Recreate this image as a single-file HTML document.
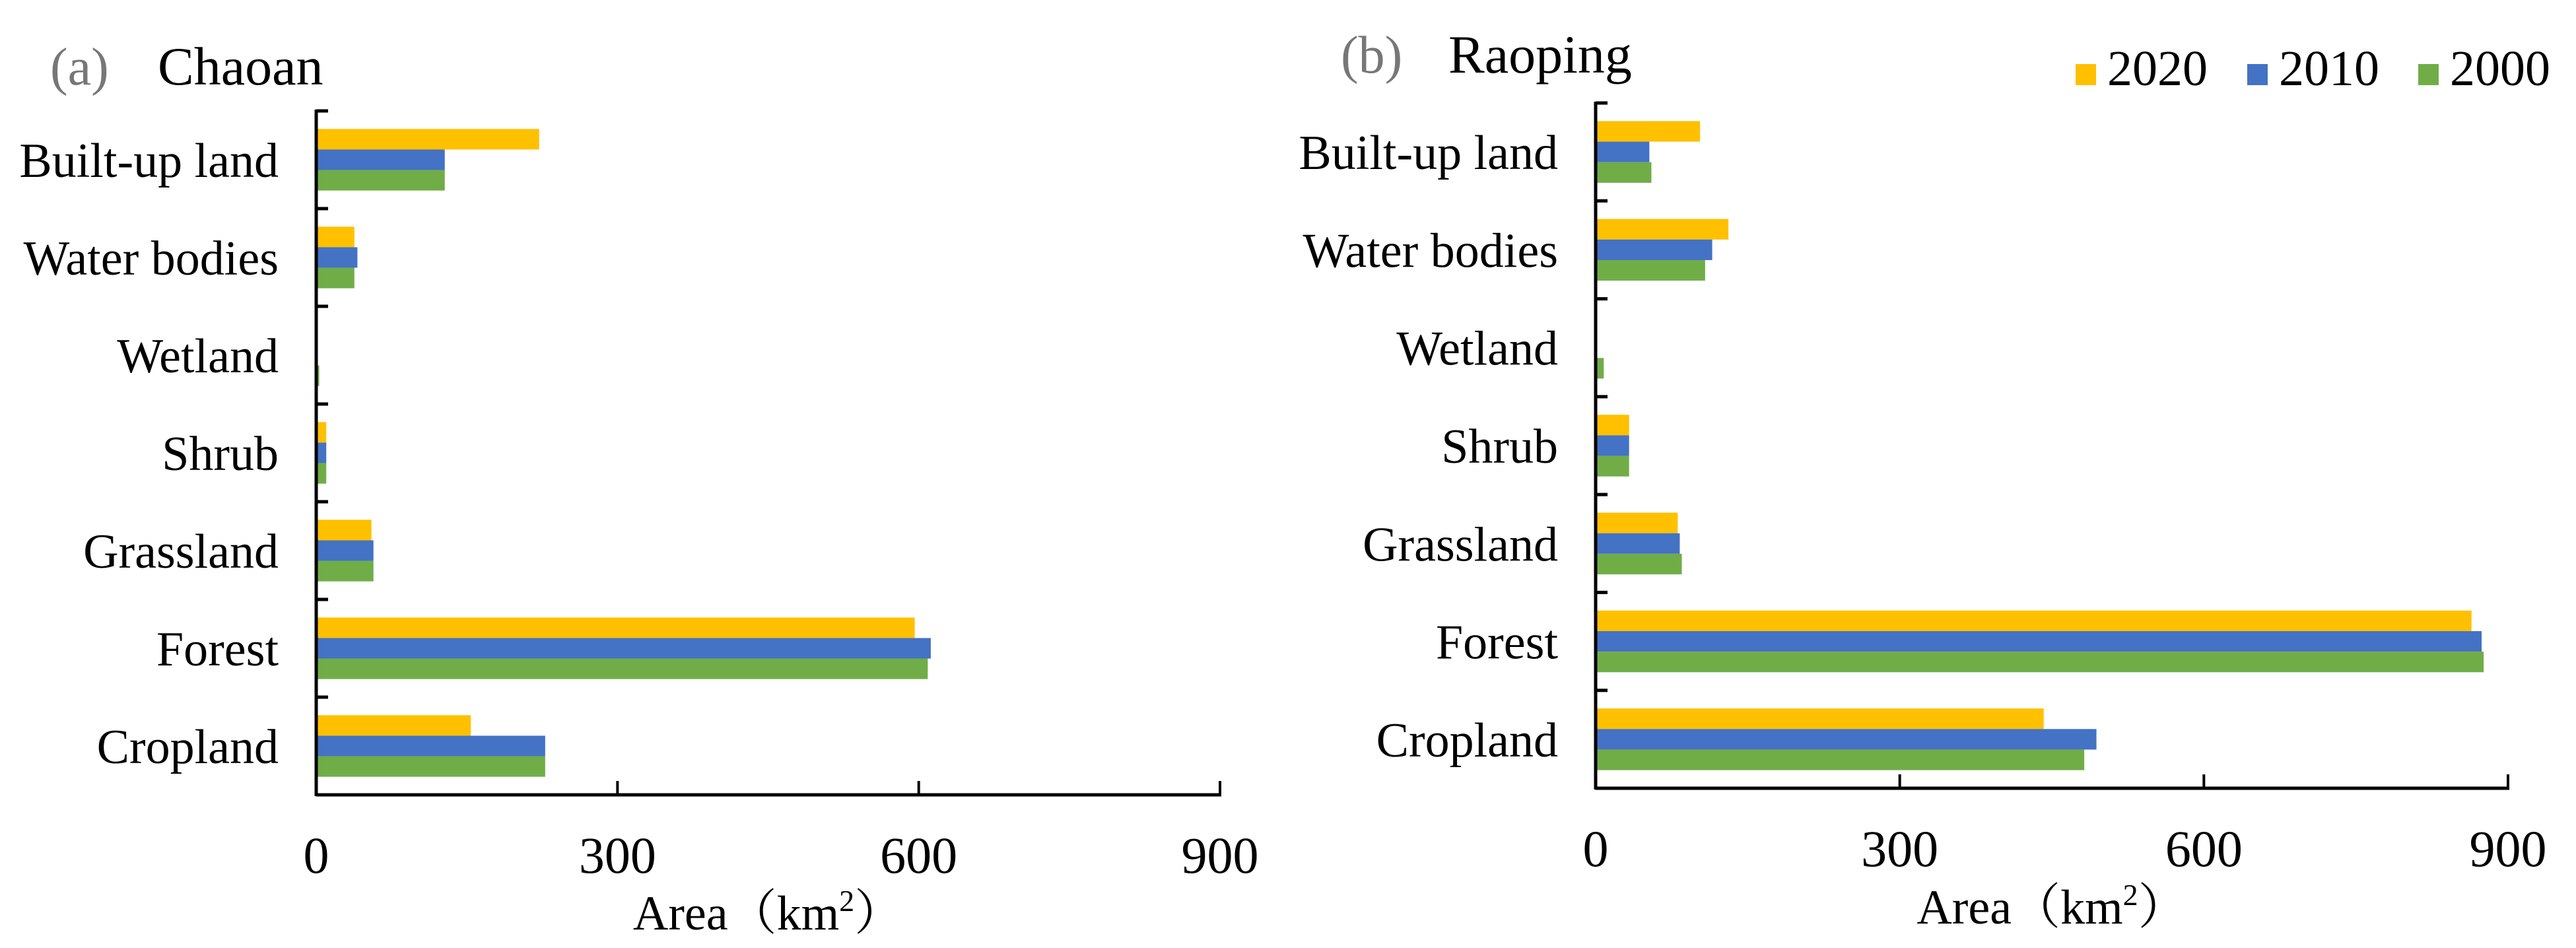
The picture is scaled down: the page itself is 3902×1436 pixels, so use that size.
<!DOCTYPE html>
<html><head><meta charset="utf-8"><style>
html,body{margin:0;padding:0;background:#fff;}
svg{display:block;font-family:"Liberation Serif","Noto Serif CJK SC",serif;}
svg text{font-family:"Liberation Serif","Noto Serif CJK SC",serif;}
</style></head><body>
<svg id="chart" width="3902" height="1436" viewBox="0 0 3902 1436">
<rect width="3902" height="1436" fill="#fff"/>
<text x="76" y="128" font-size="80" fill="#777">(a)</text>
<text x="239" y="128" font-size="82" fill="#000">Chaoan</text>
<text x="2031" y="110" font-size="80" fill="#777">(b)</text>
<text x="2194" y="110" font-size="82" fill="#000">Raoping</text>
<g font-family="Liberation Serif, serif">
<g><rect x="3144" y="97" width="31" height="32" fill="#FFC000"/><text x="3192" y="129" font-size="76" font-family="Liberation Serif, serif">2020</text></g>
<g><rect x="3404" y="97" width="31" height="32" fill="#4472C4"/><text x="3452" y="129" font-size="76" font-family="Liberation Serif, serif">2010</text></g>
<g><rect x="3663" y="97" width="31" height="32" fill="#70AD47"/><text x="3711" y="129" font-size="76" font-family="Liberation Serif, serif">2000</text></g>
</g>
<g id="pa"></g>
<g id="pb"></g>
</svg>
<script>
const categories = ["Built-up land","Water bodies","Wetland","Shrub","Grassland","Forest","Cropland"];
const seriesNames = ["2020","2010","2000"];
const chaoan2020 = [222,38,0,10,55,596,154];
const chaoan2010 = [128,41,0,10,57,612,228];
const chaoan2000 = [128,38,3,10,57,609,228];
const raoping2020 = [103,131,0,33,81,864,442];
const raoping2010 = [53,115,0,33,83,874,494];
const raoping2000 = [55,108,8,33,85,876,482];
const xTicks = [0,300,600,900];
const colors = ["#FFC000","#4472C4","#70AD47"];
const NS = "http://www.w3.org/2000/svg";
function mk(tag, attrs, parent){const e=document.createElementNS(NS,tag);for(const k in attrs)e.setAttribute(k,attrs[k]);parent.appendChild(e);return e;}
function drawPanel(g, series, x0, x1, yTop, yBot, tickBase, titleBase, key){
  const xs = v => x0 + v/900*(x1-x0);
  const band = (yBot-yTop)/categories.length;
  const barH = band*0.21;
  categories.forEach((c,i)=>{
    const by = yTop + i*band;
    const lab = mk('text',{x:x0-57,y:by+band/2+26,'font-size':74,'text-anchor':'end'},g);
    
    
    lab.textContent = c;
    series.forEach((s,j)=>{
      const r = mk('rect',{x:x0,y:by+band/2-1.5*barH+j*barH,width:Math.max(0,xs(s[i])-x0),height:barH,fill:colors[j]},g);
      
      
    });
    const t = mk('line',{x1:x0,x2:x0+18,y1:by,y2:by,stroke:'#000','stroke-width':5},g);
    
    
  });
  const ya = mk('line',{x1:x0,x2:x0,y1:yTop-2,y2:yBot+2,stroke:'#000','stroke-width':5},g);
  
  
  const xa = mk('line',{x1:x0,x2:x1+2,y1:yBot,y2:yBot,stroke:'#000','stroke-width':5},g);
  
  
  xTicks.forEach(v=>{
    if(v>0){const tk=mk('line',{x1:xs(v),x2:xs(v),y1:yBot,y2:yBot-21,stroke:'#000','stroke-width':4},g);
      
      }
    const tl = mk('text',{x:xs(v),y:tickBase,'font-size':78,'text-anchor':'middle'},g);
    
    
    tl.textContent = v;
  });
  const at = mk('text',{x:(x0+x1)/2,y:titleBase,'font-size':74,'text-anchor':'middle'},g);
  
  
  at.innerHTML = 'Area（km<tspan font-size="46" dy="-28">2</tspan><tspan dy="28">）</tspan>';
}
drawPanel(document.getElementById('pa'), [chaoan2020,chaoan2010,chaoan2000], 479, 1848, 168, 1204, 1322, 1408, 'chaoan');
drawPanel(document.getElementById('pb'), [raoping2020,raoping2010,raoping2000], 2417, 3799, 156, 1194, 1312, 1399, 'raoping');
</script>
</body></html>
